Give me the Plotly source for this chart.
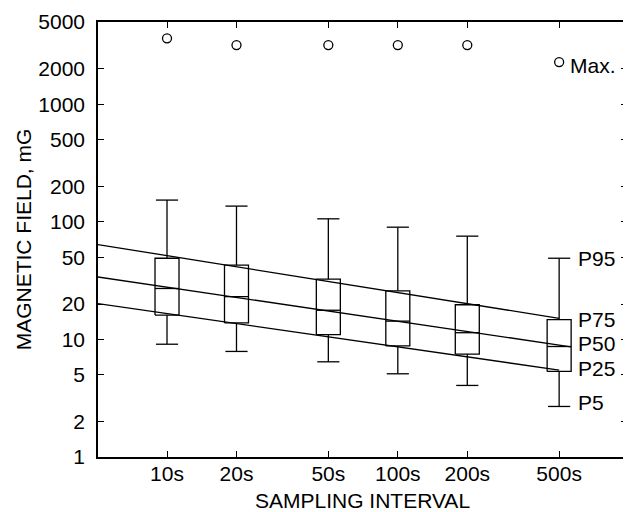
import math
import plotly.graph_objects as go

# sampling intervals (s) and percentile values (mG)
intervals = [10, 20, 50, 100, 200, 500]
interval_labels = ["10s", "20s", "50s", "100s", "200s", "500s"]
max_vals = [3630, 3180, 3180, 3180, 3180, 2280]
p95 = [153, 136, 106, 90, 75.5, 49]
p75 = [49, 42.8, 32.5, 25.9, 19.7, 14.7]
p50 = [27.1, 23.1, 17.7, 14.3, 11.4, 8.7]
p25 = [16.1, 13.8, 11.0, 8.8, 7.5, 5.34]
p5 = [9.1, 7.9, 6.45, 5.1, 4.06, 2.69]

# fitted trend lines (end points)
p75_fit_x = [5.0, 500]
p75_fit_y = [64.1, 15.1]
p50_fit_x = [5.0, 562]
p50_fit_y = [34.0, 8.65]
p25_fit_x = [5.0, 500]
p25_fit_y = [20.2, 5.48]

y_ticks = [1, 2, 5, 10, 20, 50, 100, 200, 500, 1000, 2000, 5000]

FONT = "Liberation Sans, Arial, Helvetica, sans-serif"
FS = 21
LW = 1.3
box_half = 10 ** 0.052
cap_half = 10 ** 0.048

# build box outlines, medians, whiskers and caps
bx, by = [], []
for x, lo, md, hi in zip(intervals, p25, p50, p75):
    xl, xr = x / box_half, x * box_half
    bx += [xl, xr, xr, xl, xl, None, xl, xr, None]
    by += [lo, lo, hi, hi, lo, None, md, md, None]

wx, wy = [], []
for x, a, b, c, d in zip(intervals, p5, p25, p75, p95):
    xl, xr = x / cap_half, x * cap_half
    wx += [x, x, None, x, x, None, xl, xr, None, xl, xr, None]
    wy += [a, b, None, c, d, None, a, a, None, d, d, None]

fig = go.Figure()
line = dict(color="black", width=LW)
fig.add_trace(go.Scatter(x=bx, y=by, mode="lines", line=line))
fig.add_trace(go.Scatter(x=wx, y=wy, mode="lines", line=line))
for fx, fy in [(p75_fit_x, p75_fit_y), (p50_fit_x, p50_fit_y), (p25_fit_x, p25_fit_y)]:
    fig.add_trace(go.Scatter(x=fx, y=fy, mode="lines", line=line))
fig.add_trace(go.Scatter(x=intervals, y=max_vals, mode="markers",
                         marker=dict(symbol="circle-open", size=9, color="black",
                                     line=dict(width=LW, color="black"))))

# right-hand labels
lx = math.log10(intervals[-1])
fig.add_annotation(x=lx, y=math.log10(max_vals[-1]), text="Max.", showarrow=False,
                   xanchor="left", yanchor="middle", xshift=9, yshift=-3)
for name, val, ys in [("P95", p95[-1], 0), ("P75", p75[-1], 0), ("P50", p50[-1], 3),
                      ("P25", p25[-1], 3), ("P5", p5[-1], 4)]:
    fig.add_annotation(x=lx, y=math.log10(val), text=name, showarrow=False,
                       xanchor="left", yanchor="middle", xshift=17, yshift=ys)

axis_common = dict(showline=True, linecolor="black", linewidth=1.5, mirror="ticks",
                   ticks="inside", ticklen=6, tickwidth=1.3, tickcolor="black",
                   showgrid=False, zeroline=False, automargin=False,
                   tickfont=dict(family=FONT, size=FS, color="black"))

fig.update_xaxes(type="log", range=[0.701, 2.993], tickvals=intervals,
                 ticktext=interval_labels, ticklabelstandoff=-3,
                 title=dict(text="SAMPLING INTERVAL", standoff=13,
                            font=dict(family=FONT, size=FS, color="black")),
                 **axis_common)
fig.update_yaxes(type="log", range=[0, math.log10(5000)], tickvals=y_ticks,
                 ticktext=[str(v) for v in y_ticks], ticklabelstandoff=7,
                 title=dict(text="MAGNETIC FIELD, mG", standoff=1,
                            font=dict(family=FONT, size=FS, color="black")),
                 **axis_common)

# the page adds an 8px body margin, so the figure is sized to fit inside the window
fig.update_layout(width=623, height=504, showlegend=False,
                  margin=dict(l=90, r=4, t=14, b=55),
                  plot_bgcolor="white", paper_bgcolor="white",
                  font=dict(family=FONT, size=FS, color="black"))

fig.write_html("out.html")
